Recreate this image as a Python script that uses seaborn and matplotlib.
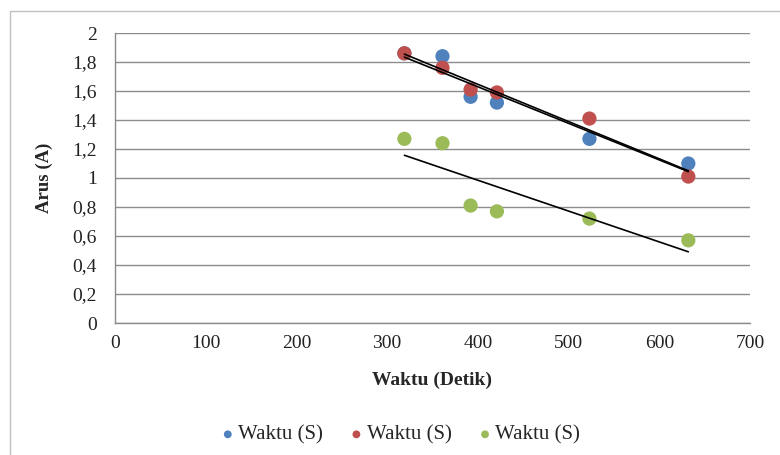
import seaborn as sns
import numpy as np
import pandas as pd
import matplotlib.pyplot as plt
from matplotlib.ticker import FuncFormatter, MultipleLocator
from matplotlib.patches import Rectangle

waktu = [319, 361, 392, 421, 523, 632]
arus_1 = [1.86, 1.84, 1.56, 1.52, 1.27, 1.10]
arus_2 = [1.86, 1.76, 1.61, 1.59, 1.41, 1.01]
arus_3 = [1.27, 1.24, 0.81, 0.77, 0.72, 0.57]
series_labels = ['Waktu (S)', 'Waktu (S)', 'Waktu (S)']
colors = ['#4F81BD', '#C0504D', '#9BBB59']

sns.set_theme(style='white')
plt.rcParams['font.family'] = ['Liberation Serif', 'DejaVu Serif']

f = plt.figure(figsize=(7.8, 4.55), dpi=100)
ax = f.add_axes([115/780, 1 - 323/455, (750-115)/780, 290/455])

for y, lab, c in zip([arus_1, arus_2, arus_3], series_labels, colors):
    df = pd.DataFrame({'x': waktu, 'y': y})
    sns.scatterplot(data=df, x='x', y='y', ax=ax, color=c, s=105,
                    edgecolor='none', label=lab, zorder=3)
for y in [arus_1, arus_2, arus_3]:
    df = pd.DataFrame({'x': waktu, 'y': y})
    sns.regplot(data=df, x='x', y='y', ax=ax, scatter=False, ci=None,
                truncate=True, line_kws={'color': 'black', 'lw': 1.2, 'zorder': 4})

ax.set_xlim(0, 700)
ax.set_ylim(0, 2)
ax.xaxis.set_major_locator(MultipleLocator(100))
ax.yaxis.set_major_locator(MultipleLocator(0.2))
ax.yaxis.set_major_formatter(FuncFormatter(lambda v, p: ('%g' % round(v, 1)).replace('.', ',')))
ax.grid(axis='y', color='#8c8c8c', lw=1.0)
ax.set_axisbelow(True)
for s in ['top', 'right']:
    ax.spines[s].set_visible(False)
for s in ['left', 'bottom']:
    ax.spines[s].set_color('#8c8c8c')
    ax.spines[s].set_linewidth(1.0)
ax.tick_params(axis='both', which='major', direction='out', length=5, width=1,
               color='#8c8c8c', labelsize=14, labelcolor='#222222', pad=4)
ax.tick_params(axis='y', pad=8)

ax.set_xlabel('Waktu (Detik)', fontsize=14, fontweight='bold', labelpad=14)
ax.set_ylabel('Arus (A)', fontsize=13.5, fontweight='bold', labelpad=14)

ax.get_legend().remove()
handles, l = ax.get_legend_handles_labels()
leg = f.legend(handles, l, loc='center', bbox_to_anchor=(0.51, 1 - 435/455), ncols=3,
               frameon=False, fontsize=15, handletextpad=-0.1, columnspacing=1.0,
               handlelength=1.2, markerscale=0.55)

f.patches.append(Rectangle((10/780, -0.1), 1.2, 1 - 11/455 + 0.1, transform=f.transFigure,
                           fill=False, edgecolor='#bfbfbf', lw=1.0))

plt.savefig('out.png', dpi=100)
